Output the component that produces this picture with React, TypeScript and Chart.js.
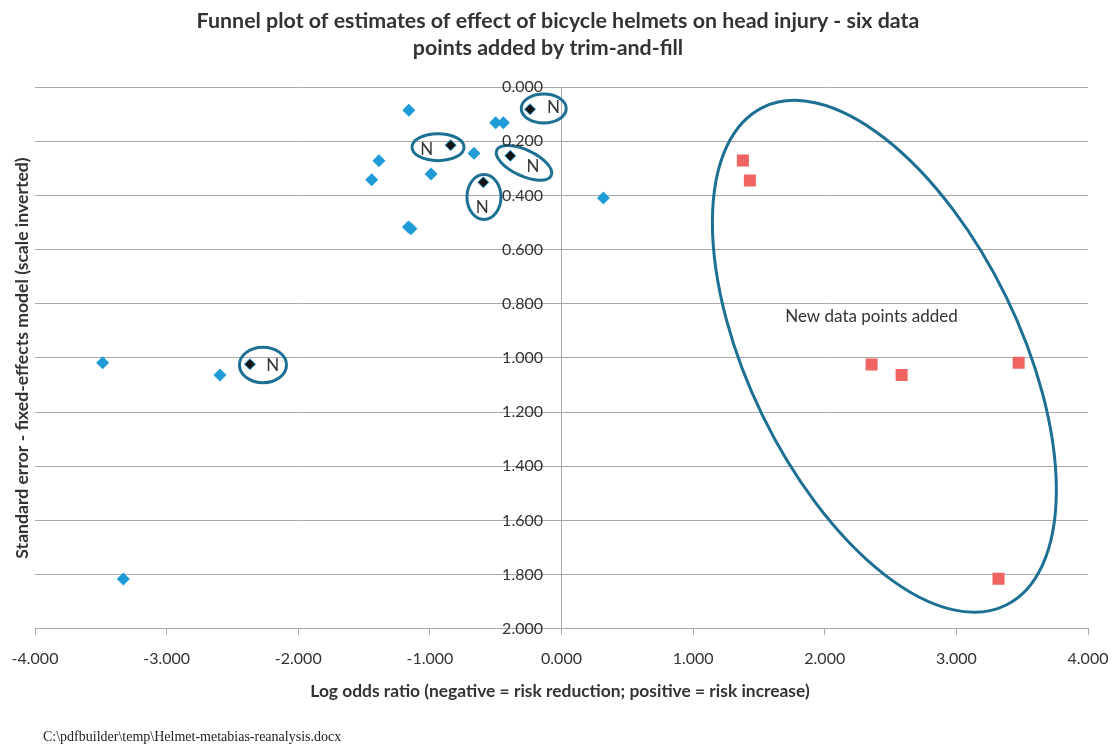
import React, { useEffect, useRef } from "react";
import { Chart, registerables } from "chart.js";

Chart.register(...registerables);

// ---- Data (log odds ratio, standard error) ----
const studyLogOR = [-1.160, -0.500, -0.442, -1.387, -1.442, -0.991, -0.665, -1.163, -1.144, 0.318, -3.486, -2.595, -3.329];
const studySE = [0.086, 0.132, 0.132, 0.272, 0.342, 0.321, 0.245, 0.517, 0.523, 0.410, 1.018, 1.063, 1.816];

const markedLogOR = [-0.239, -0.842, -0.389, -0.594, -2.367];
const markedSE = [0.082, 0.215, 0.254, 0.352, 1.023];

const filledLogOR = [1.378, 1.431, 2.356, 2.584, 3.473, 3.320];
const filledSE = [0.271, 0.345, 1.024, 1.063, 1.018, 1.815];

const xTickMin = -4;
const xTickMax = 4;
const yTickMin = 0;
const yTickMax = 2;

const titleLines = [
  "Funnel plot of estimates of effect of bicycle helmets on head injury - six data",
  "points added by trim-and-fill",
];
const xAxisTitle = "Log odds ratio (negative = risk reduction; positive = risk increase)";
const yAxisTitle = "Standard error - fixed-effects model (scale inverted)";
const footerText = "C:\\pdfbuilder\\temp\\Helmet-metabias-reanalysis.docx";
const noteText = "New data points added";
const markText = "N";

// ---- Annotation geometry (data-space centres, pixel radii) ----
const ringCentreX = [-0.135, -0.938, -0.285, -0.589, -2.268, 2.453];
const ringCentreY = [0.079, 0.222, 0.280, 0.406, 1.026, 0.994];
const ringRx = [22.5, 26, 30, 17, 23.5, 277];
const ringRy = [14.5, 13.5, 13, 22.5, 17.8, 135.5];
const ringRot = [0, 0, 25, 0, 0, 64];

const markLabelX = [-0.060, -1.024, -0.217, -0.602, -2.194];
const markLabelY = [0.077, 0.230, 0.292, 0.444, 1.028];

const noteX = 2.355;
const noteY = 0.847;

const BLUE = "#1F9BD7";
const RED = "#EF6360";
const RING = "#1D6F94";
const TEXT = "#333333";
const GRID = "#A8A8A8";
const FONT = "Lato, 'Open Sans', sans-serif";
const fmt = (v: number) => Number(v).toFixed(3);

const overlayPlugin = {
  id: "overlay",
  afterDatasetsDraw(chart: any) {
    const { ctx, scales } = chart;
    const xs = scales.x;
    const ys = scales.y;
    ctx.save();
    ctx.strokeStyle = RING;
    ctx.lineWidth = 3;
    for (let i = 0; i < ringCentreX.length; i++) {
      ctx.beginPath();
      ctx.ellipse(
        xs.getPixelForValue(ringCentreX[i]),
        ys.getPixelForValue(ringCentreY[i]),
        ringRx[i],
        ringRy[i],
        (ringRot[i] * Math.PI) / 180,
        0,
        Math.PI * 2
      );
      ctx.stroke();
    }
    ctx.fillStyle = TEXT;
    ctx.font = `17px ${FONT}`;
    ctx.textAlign = "center";
    ctx.textBaseline = "middle";
    for (let i = 0; i < markLabelX.length; i++) {
      ctx.fillText(markText, xs.getPixelForValue(markLabelX[i]), ys.getPixelForValue(markLabelY[i]));
    }
    ctx.fillText(noteText, xs.getPixelForValue(noteX), ys.getPixelForValue(noteY));
    ctx.restore();
  },
  afterDraw(chart: any) {
    const { ctx, scales } = chart;
    const xs = scales.x;
    const ys = scales.y;
    ctx.save();
    // y tick labels, left of the axis line at x = 0
    ctx.fillStyle = TEXT;
    ctx.font = `16px ${FONT}`;
    ctx.textAlign = "right";
    ctx.textBaseline = "middle";
    const axisX = xs.getPixelForValue(0);
    for (const t of ys.ticks) {
      ctx.fillText(fmt(t.value), axisX - 18.5, ys.getPixelForValue(t.value));
    }
    ctx.textBaseline = "alphabetic";
    ctx.textAlign = "center";
    ctx.font = `bold 21.4px ${FONT}`;
    ctx.fillText(titleLines[0], 558, 28.3);
    ctx.fillText(titleLines[1], 548, 54.5);
    ctx.font = `bold 17.4px ${FONT}`;
    ctx.fillText(xAxisTitle, 560, 696.5);
    ctx.save();
    ctx.translate(28, 358);
    ctx.rotate(-Math.PI / 2);
    ctx.font = `bold 17.6px ${FONT}`;
    ctx.fillText(yAxisTitle, 0, 0);
    ctx.restore();
    ctx.font = "14px 'Liberation Serif', 'Times New Roman', serif";
    ctx.textAlign = "left";
    ctx.fillStyle = "#222222";
    ctx.fillText(footerText, 43, 741);
    ctx.restore();
  },
};

export default function App() {
  const canvasRef = useRef<HTMLCanvasElement | null>(null);

  useEffect(() => {
    const canvas = canvasRef.current;
    if (!canvas) return;
    const toPoints = (xs: number[], ys: number[]) => xs.map((v, i) => ({ x: v, y: ys[i] }));
    const zeroPad = (s: any) => {
      s.paddingLeft = 0;
      s.paddingRight = 0;
      s.paddingTop = 0;
      s.paddingBottom = 0;
    };
    const chart = new Chart(canvas, {
      type: "scatter",
      data: {
        datasets: [
          {
            label: "Studies",
            data: toPoints(studyLogOR, studySE),
            pointStyle: "rectRot",
            pointRadius: 6.5,
            backgroundColor: BLUE,
            borderColor: BLUE,
            borderWidth: 0,
          },
          {
            label: "Marked",
            data: toPoints(markedLogOR, markedSE),
            pointStyle: "rectRot",
            pointRadius: 5.5,
            backgroundColor: "#151515",
            borderColor: BLUE,
            borderWidth: 1,
          },
          {
            label: "Trim-and-fill",
            data: toPoints(filledLogOR, filledSE),
            pointStyle: "rect",
            pointRadius: 8.5,
            backgroundColor: RED,
            borderColor: RED,
            borderWidth: 0,
          },
        ],
      },
      options: {
        responsive: false,
        animation: false,
        events: [],
        layout: { padding: { left: 35, right: 26, top: 87, bottom: 62 } },
        plugins: {
          legend: { display: false },
          title: { display: false },
          tooltip: { enabled: false },
        },
        scales: {
          x: {
            type: "linear",
            position: "bottom",
            min: xTickMin,
            max: xTickMax,
            afterFit: zeroPad,
            ticks: {
              stepSize: 1,
              padding: 14,
              color: TEXT,
              font: { family: FONT, size: 16 },
              callback: (v: any) => fmt(v),
            },
            grid: {
              display: true,
              drawOnChartArea: false,
              drawTicks: true,
              tickLength: 6,
              color: GRID,
            },
            border: { display: true, color: GRID, width: 1 },
          },
          y: {
            type: "linear",
            position: { x: 0 } as any,
            reverse: true,
            min: yTickMin,
            max: yTickMax,
            afterFit: zeroPad,
            ticks: {
              stepSize: 0.2,
              display: false,
            },
            grid: {
              display: true,
              drawTicks: false,
              color: GRID,
              lineWidth: 1,
            },
            border: { display: true, color: GRID, width: 1 },
          },
        },
      },
      plugins: [overlayPlugin],
    });
    return () => chart.destroy();
  }, []);

  return (
    <div style={{ position: "absolute", left: 0, top: 0, width: 1114, height: 744, background: "#ffffff" }}>
      <canvas ref={canvasRef} width={1114} height={744} style={{ display: "block", width: 1114, height: 744 }} />
    </div>
  );
}
